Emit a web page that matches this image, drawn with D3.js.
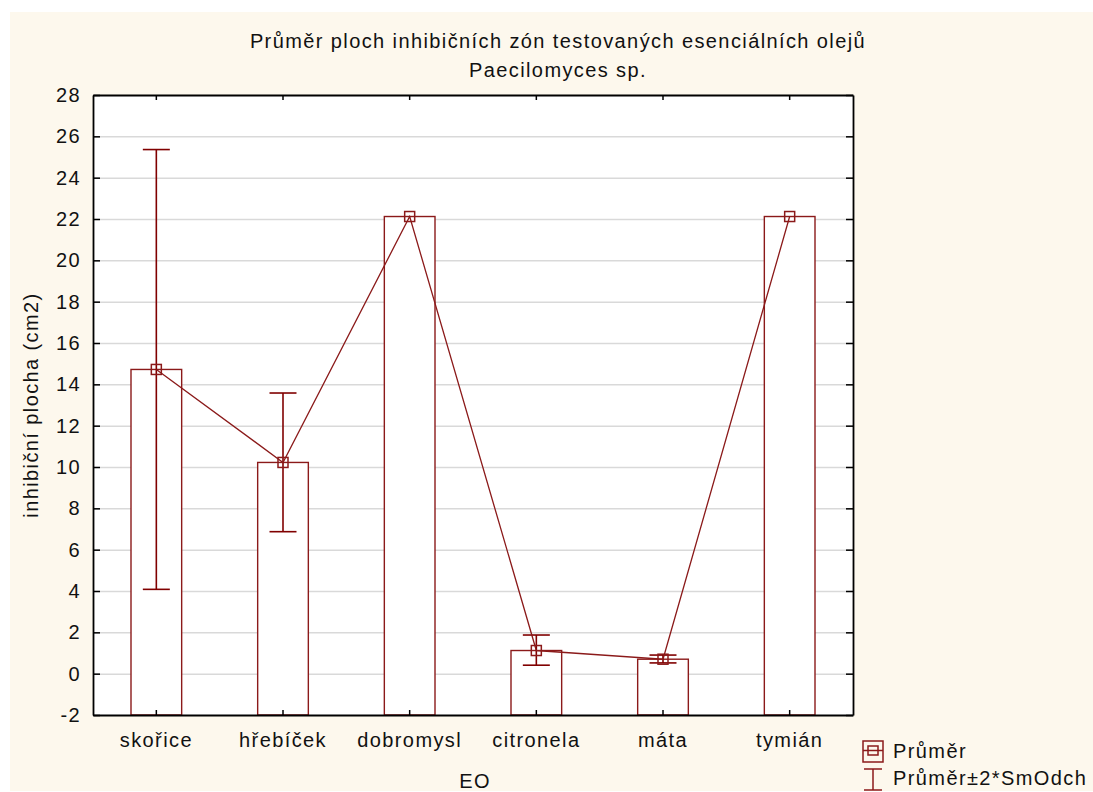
<!DOCTYPE html>
<html><head><meta charset="utf-8">
<script src="https://cdn.jsdelivr.net/npm/d3@7"></script>
<style>
html,body{margin:0;padding:0;background:#fff;}
text{font-family:"Liberation Sans",Arial,sans-serif;fill:#111;letter-spacing:1.4px;}
</style></head>
<body>
<svg id="c" width="1093" height="792"></svg>
<script>
const categories = ["skořice","hřebíček","dobromysl","citronela","máta","tymián"];
const means = [14.72, 10.22, 22.12, 1.12, 0.70, 22.12];
const errLow = [4.08, 6.87, 22.12, 0.41, 0.52, 22.12];
const errHigh = [25.36, 13.58, 22.12, 1.87, 0.90, 22.12];
const yTicks = [-2,0,2,4,6,8,10,12,14,16,18,20,22,24,26,28];
const titleLines = ["Průměr ploch inhibičních zón testovaných esenciálních olejů","Paecilomyces sp."];
const xTitle = "EO";
const yTitle = "inhibiční plocha (cm2)";
const legendLabels = ["Průměr","Průměr±2*SmOdch"];

const col = "#8b1a1a";
const svg = d3.select("#c");
svg.append("rect").attr("x",10).attr("y",12).attr("width",1083).attr("height",779).attr("fill","#fdf8ed");

const L=93,R=853,T=95,B=715;
const x = d3.scaleBand().domain(categories).range([L,R]).paddingInner(0.6).paddingOuter(0.3);
const xc = d => x(d)+x.bandwidth()/2;
const y = d3.scaleLinear().domain([-2,28]).range([B,T]);

svg.append("rect").attr("x",L).attr("y",T).attr("width",R-L).attr("height",B-T).attr("fill","#fff");

// grid
const grid = svg.append("g").attr("transform",`translate(${L},0)`)
  .call(d3.axisLeft(y).tickValues(yTicks.filter(v=>v>-2&&v<28)).tickSize(-(R-L)).tickFormat(""));
grid.select(".domain").remove();
grid.selectAll("line").attr("stroke","#d9d9d9").attr("stroke-width",1.5);

const data = categories.map((c,i)=>({c,m:means[i],lo:errLow[i],hi:errHigh[i]}));

// bars
svg.append("g").selectAll("rect").data(data).join("rect")
  .attr("x",d=>x(d.c)).attr("width",x.bandwidth())
  .attr("y",d=>y(d.m)).attr("height",d=>B-y(d.m))
  .attr("fill","#fff").attr("stroke",col).attr("stroke-width",1.4);

// error bars
const cap = 13.5;
const eb = svg.append("g").attr("stroke","#800000").attr("stroke-width",1.6).attr("fill","none");
data.filter(d=>d.hi>d.lo).forEach(d=>{
  eb.append("line").attr("x1",xc(d.c)).attr("x2",xc(d.c)).attr("y1",y(d.hi)).attr("y2",y(d.lo));
  eb.append("line").attr("x1",xc(d.c)-cap).attr("x2",xc(d.c)+cap).attr("y1",y(d.hi)).attr("y2",y(d.hi));
  eb.append("line").attr("x1",xc(d.c)-cap).attr("x2",xc(d.c)+cap).attr("y1",y(d.lo)).attr("y2",y(d.lo));
});

// mean line
svg.append("path").datum(data)
  .attr("d",d3.line().x(d=>xc(d.c)).y(d=>y(d.m)))
  .attr("fill","none").attr("stroke",col).attr("stroke-width",1.3);
// markers
svg.append("g").selectAll("rect").data(data).join("rect")
  .attr("x",d=>xc(d.c)-5).attr("y",d=>y(d.m)-5).attr("width",10).attr("height",10)
  .attr("fill","none").attr("stroke",col).attr("stroke-width",1.5);

// axes
const axStyle = g=>{g.select(".domain").attr("stroke","#000").attr("stroke-width",1.8);
  g.selectAll(".tick line").attr("stroke","#000").attr("stroke-width",1.5);
  g.selectAll("text").attr("font-family","Liberation Sans, Arial, sans-serif").attr("font-size",20).attr("fill","#111");};
svg.append("g").attr("transform",`translate(${L},0)`)
  .call(d3.axisLeft(y).tickValues(yTicks).tickSizeInner(-7).tickSizeOuter(0).tickPadding(12).tickFormat(d=>String(d)))
  .call(axStyle);
svg.append("g").attr("transform",`translate(${R},0)`)
  .call(d3.axisRight(y).tickValues(yTicks).tickSizeInner(-7).tickSizeOuter(0).tickFormat(""))
  .call(axStyle);
svg.append("g").attr("transform",`translate(0,${B})`)
  .call(d3.axisBottom(x).tickSizeInner(-5).tickSizeOuter(0).tickPadding(18))
  .call(axStyle);
svg.append("g").attr("transform",`translate(0,${T})`)
  .call(d3.axisTop(x).tickSizeInner(-5).tickSizeOuter(0).tickFormat(""))
  .call(axStyle);

// titles
svg.append("text").attr("x",558).attr("y",48).attr("text-anchor","middle").attr("font-size",20).text(titleLines[0]);
svg.append("text").attr("x",558).attr("y",77).attr("text-anchor","middle").attr("font-size",20).text(titleLines[1]);
svg.append("text").attr("x",475).attr("y",788).attr("text-anchor","middle").attr("font-size",20).text(xTitle);
svg.append("text").attr("transform","translate(38,405) rotate(-90)").attr("text-anchor","middle").attr("font-size",20).text(yTitle);

// legend
const lg = svg.append("g").attr("stroke",col).attr("fill","none").attr("stroke-width",1.5);
lg.append("rect").attr("x",863).attr("y",741).attr("width",20).attr("height",21);
lg.append("rect").attr("x",868).attr("y",746).attr("width",10).attr("height",9);
lg.append("line").attr("x1",863).attr("x2",883).attr("y1",750.5).attr("y2",750.5);
lg.append("line").attr("x1",873).attr("x2",873).attr("y1",769).attr("y2",790);
lg.append("line").attr("x1",864).attr("x2",882).attr("y1",769).attr("y2",769);
lg.append("line").attr("x1",864).attr("x2",882).attr("y1",790).attr("y2",790);
svg.append("text").attr("x",893).attr("y",758).attr("font-size",20).text(legendLabels[0]);
svg.append("text").attr("x",893).attr("y",785).attr("font-size",20).text(legendLabels[1]);
</script>
</body></html>
